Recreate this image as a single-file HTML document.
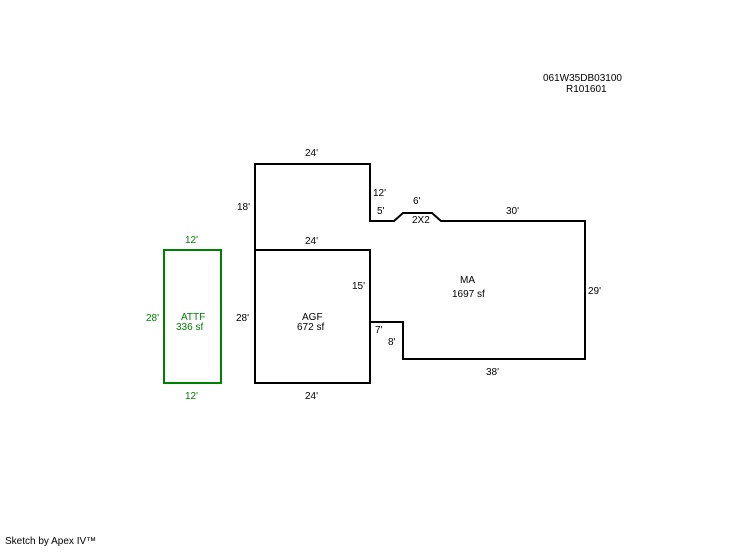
<!DOCTYPE html>
<html><head><style>
body{margin:0;background:#fff;width:746px;height:547px;overflow:hidden}
svg text{font-family:"Liberation Sans",Arial,sans-serif;font-size:10px}
</style></head><body>
<svg width="746" height="547" xmlns="http://www.w3.org/2000/svg">
<g fill="none" stroke="#000" stroke-width="2">
<polyline points="255,250 255,164 370,164 370,221 394,221 403,213 432,213 441,221 585,221 585,359 403,359 403,322 370,322"/>
<rect x="255" y="250" width="115" height="133"/>
</g>
<rect x="164" y="250" width="57" height="133" fill="none" stroke="#008000" stroke-width="2"/>
<g fill="#000">
<text x="543" y="81">061W35DB03100</text>
<text x="566" y="92">R101601</text>
<text x="305" y="156">24'</text>
<text x="373" y="196">12'</text>
<text x="413" y="204">6'</text>
<text x="377" y="214">5'</text>
<text x="412" y="223">2X2</text>
<text x="506" y="214">30'</text>
<text x="237" y="210">18'</text>
<text x="305" y="244">24'</text>
<text x="460" y="283">MA</text>
<text x="452" y="297">1697 sf</text>
<text x="588" y="294">29'</text>
<text x="352" y="289">15'</text>
<text x="236" y="321">28'</text>
<text x="302" y="320">AGF</text>
<text x="297" y="330">672 sf</text>
<text x="375" y="333">7'</text>
<text x="388" y="345">8'</text>
<text x="486" y="375">38'</text>
<text x="305" y="399">24'</text>
<text x="5" y="544" font-size="9">Sketch by Apex IV™</text>
</g>
<g fill="#008000">
<text x="185" y="243">12'</text>
<text x="146" y="321">28'</text>
<text x="181" y="320">ATTF</text>
<text x="176" y="330">336 sf</text>
<text x="185" y="399">12'</text>
</g>
</svg>
</body></html>
